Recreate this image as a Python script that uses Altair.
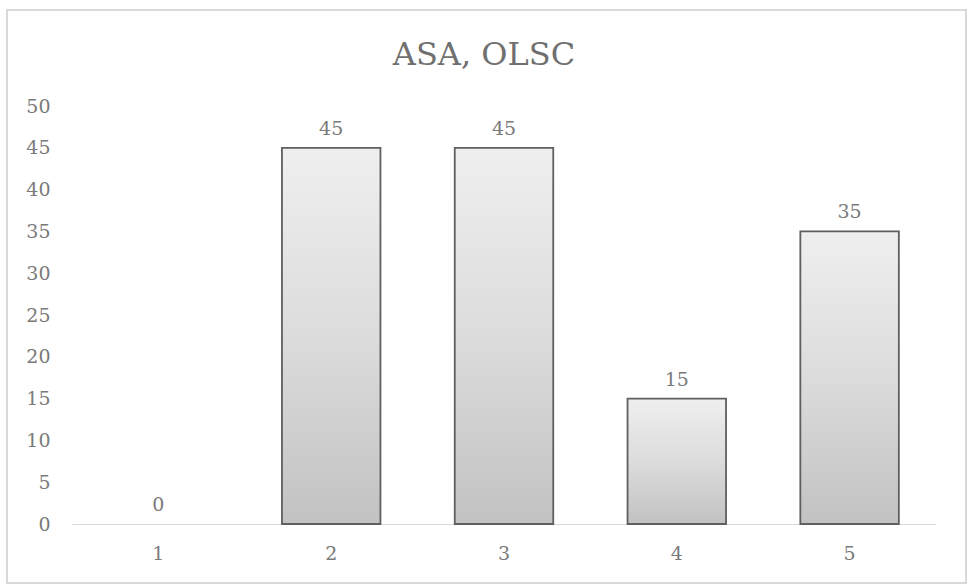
import altair as alt
import pandas as pd

categories = ["1", "2", "3", "4", "5"]
values = [0, 45, 45, 15, 35]
chart_title = "ASA, OLSC"

df = pd.DataFrame({"category": categories, "value": values})

FONT = "DejaVu Serif"
TEXT_GRAY = "#7a7a7a"

x_enc = alt.X(
    "category:N",
    sort=categories,
    scale=alt.Scale(paddingInner=0.43, paddingOuter=0.215),
    axis=alt.Axis(
        title=None, labelAngle=0, ticks=False, domain=True,
        domainColor="#d9d9d9", domainWidth=1.2,
        labelFont=FONT, labelFontSize=19, labelColor=TEXT_GRAY, labelPadding=20,
    ),
)
y_enc = alt.Y(
    "value:Q",
    scale=alt.Scale(domain=[0, 50]),
    axis=alt.Axis(
        title=None, values=list(range(0, 51, 5)), grid=False, domain=False,
        ticks=False, labelFont=FONT, labelFontSize=19, labelColor=TEXT_GRAY,
        labelPadding=22,
    ),
)

bar_fill = alt.Gradient(
    gradient="linear",
    x1=0, x2=0, y1=0, y2=1,
    stops=[
        alt.GradientStop(color="#efefef", offset=0),
        alt.GradientStop(color="#dcdcdc", offset=0.5),
        alt.GradientStop(color="#c2c2c2", offset=1),
    ],
)

bars = (
    alt.Chart(df)
    .transform_filter("datum.value > 0")
    .mark_bar(color=bar_fill, stroke="#5f5f5f", strokeWidth=1.8)
    .encode(x=x_enc, y=y_enc)
)

labels = (
    alt.Chart(df)
    .mark_text(baseline="bottom", dy=-9, font=FONT, fontSize=19, color=TEXT_GRAY)
    .encode(x=x_enc, y=y_enc, text="value:Q")
)

# light outer frame around the whole chart area
frame = (
    alt.Chart(df)
    .mark_rect(fill=None, stroke="#d9d9d9", strokeWidth=1.5, clip=False)
    .encode(
        x=alt.value(-65), x2=alt.value(894),
        y=alt.value(-96), y2=alt.value(477),
    )
)

# chart heading, centred over the whole frame
heading = (
    alt.Chart(df.head(1))
    .mark_text(
        text=chart_title, font=FONT, fontSize=32, color="#707070",
        align="center", baseline="alphabetic", clip=False,
    )
    .encode(x=alt.value(412), y=alt.value(-41))
)

chart = (
    alt.layer(frame, bars, labels, heading)
    .properties(
        width=864,
        height=418,
        autosize=alt.AutoSizeParams(type="none"),
        padding={"left": 72, "top": 106, "right": 32, "bottom": 61},
        background="white",
    )
    .configure_view(strokeWidth=0)
)

chart.save("out.html", embed_options={"renderer": "svg", "actions": False})
